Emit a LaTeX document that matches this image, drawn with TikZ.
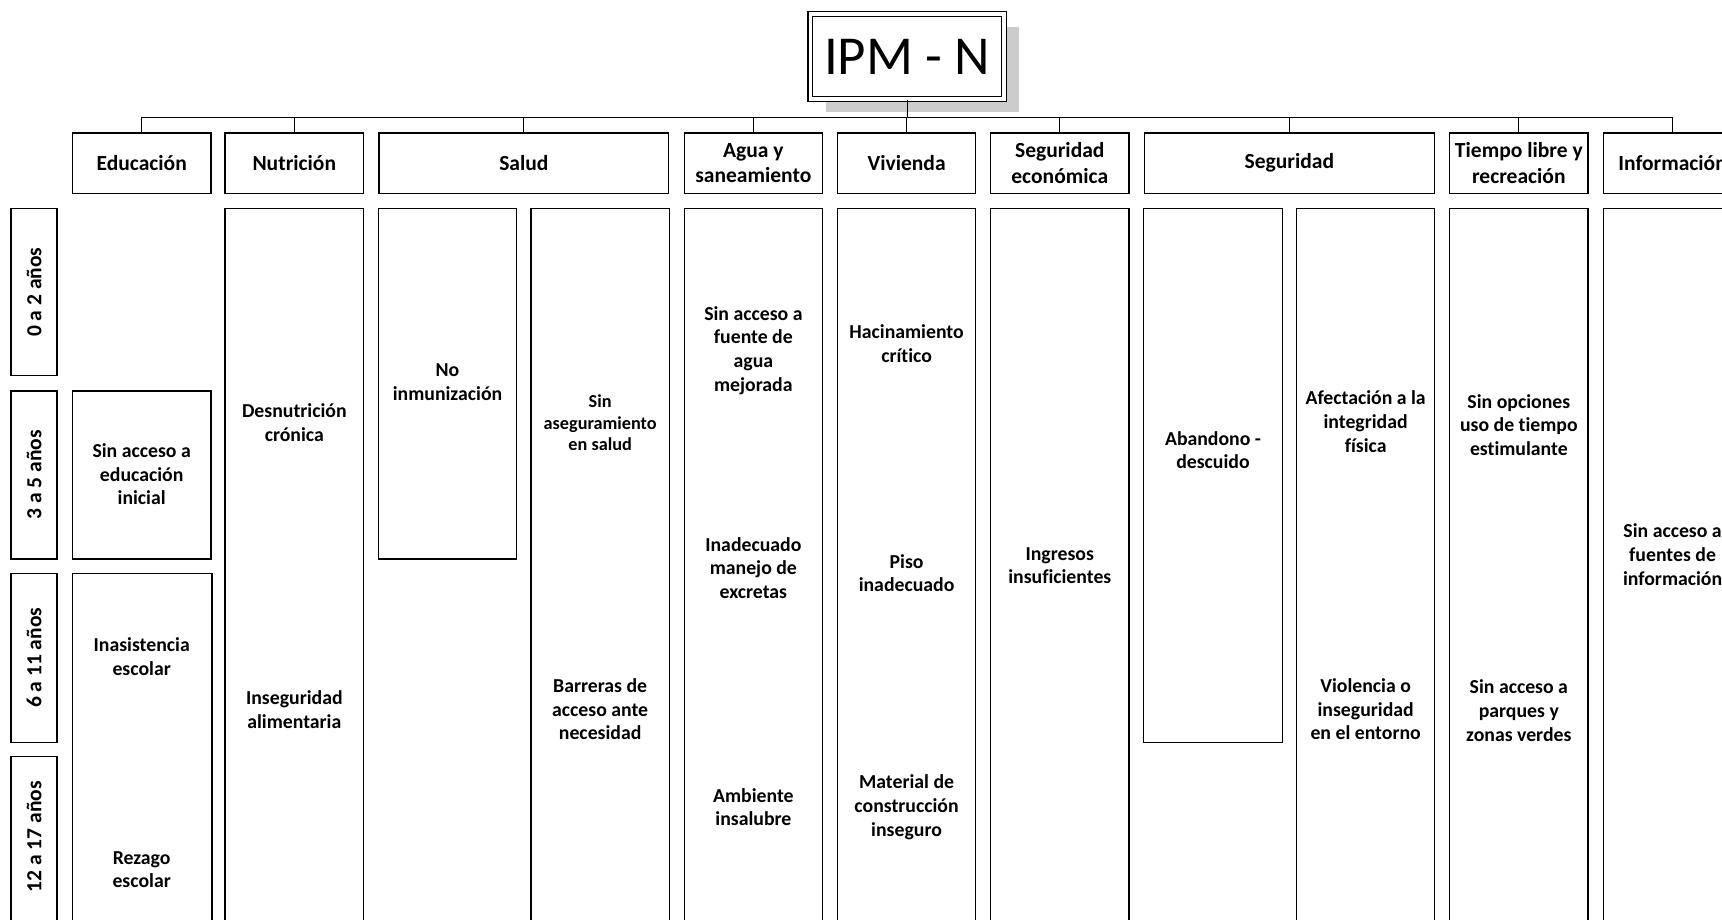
\documentclass[tikz,border=0pt]{standalone}
\usepackage{fontspec}
\setmainfont{Carlito}[Ligatures=NoCommon]
\usetikzlibrary{shadows}

\begin{document}
\begin{tikzpicture}[
x=0.5pt, y=-0.5pt,
    root/.style={rectangle, draw, fill=white, line width=0.6pt, double, double distance=1.6pt, minimum width=88.2pt, minimum height=38.7pt, font=\fontsize{25}{30}\selectfont, drop shadow={shadow xshift=7pt, shadow yshift=-6pt, fill=black!20, opacity=1}},
    header/.style={rectangle, draw, line width=0.6pt, minimum width=63pt, minimum height=27.5pt, inner sep=1pt, align=center, font=\bfseries\fontsize{9.8}{11.5}\selectfont},
    wideheader/.style={header, minimum width=132pt},
    cell/.style={rectangle, draw, line width=0.6pt, minimum width=63pt, inner sep=0pt},
    age/.style={rectangle, draw, line width=0.6pt, rotate=90, minimum height=21pt, inner sep=0pt, font=\bfseries\fontsize{9.8}{11}\selectfont},
    txt/.style={align=center, inner sep=0pt, font=\bfseries\fontsize{9}{10.75}\selectfont},
    smalltxt/.style={align=center, inner sep=0pt, font=\bfseries\fontsize{8.3}{9.75}\selectfont},
    conn/.style={draw, line width=0.5pt}
]
    \useasboundingbox (0,0) rectangle (1568,837);
    \clip (0,0) rectangle (1568,837);

    % ================= ROOT =================
    \node[root] (IPM) at (826,51.5) {IPM - N};

    % ================= DIMENSIONS =================
    \node[header] (Edu) at (129,148.5) {Educación};
    \node[header] (Nut) at (268,148.5) {Nutrición};
    \node[wideheader] (Salud) at (477,148.5) {Salud};
    \node[header] (Agua) at (686,148.5) {Agua y\\saneamiento};
    \node[header] (Viv) at (825.5,148.5) {Vivienda};
    \node[header] (SegEco) at (965,148.5) {Seguridad\\económica};
    \node[wideheader] (Seg) at (1174,148.5) {Seguridad};
    \node[header] (Tiempo) at (1383,148.5) {Tiempo libre y\\recreación};
    \node[header] (Info) at (1523,148.5) {Información};

    \coordinate (bus) at (0,107);
    \draw[conn] (IPM.south) -- (IPM.south |- bus);
    \draw[conn] (Edu.north) -- (Edu.north |- bus) -| (Info.north);
    \foreach \d in {Nut,Salud,Agua,Viv,SegEco,Seg,Tiempo}
        \draw[conn] (\d.north) -- (\d.north |- bus);

    % ================= AGE GROUPS =================
    \node[age, minimum width=76pt] (age1) at (31,266) {0 a 2 años};
    \node[age, minimum width=76.5pt] (age2) at (31,432.5) {3 a 5 años};
    \node[age, minimum width=77pt] (age3) at (31,599) {6 a 11 años};
    \node[age, minimum width=86pt] (age4) at (31,775) {};
    \node[age, draw=none] (tAge4) at (31,762) {12 a 17 años};

    % ================= INDICATOR BOXES =================
    \node[cell, minimum height=76.5pt] (eduIni) at (129,432.5) {};
    \node[cell, minimum width=63.5pt, minimum height=169pt] (eduEsc) at (129.5,691) {};
    \node[cell, minimum height=335pt] (nutBody) at (268,525) {};
    \node[cell, minimum height=159.5pt] (salInm) at (407.5,349.5) {};
    \node[cell, minimum height=335pt] (salAcc) at (546.5,525) {};
    \node[cell, minimum height=335pt] (aguaBody) at (686,525) {};
    \node[cell, minimum height=335pt] (vivBody) at (825.5,525) {};
    \node[cell, minimum height=335pt] (ecoBody) at (965,525) {};
    \node[cell, minimum height=243pt] (segAba) at (1104.5,433) {};
    \node[cell, minimum height=335pt] (segInt) at (1243.5,525) {};
    \node[cell, minimum height=335pt] (tieBody) at (1383,525) {};
    \node[cell, minimum height=335pt] (infBody) at (1523,525) {};

    % Educacion
    \node[txt] (tEdu1) at (129,432) {Sin acceso a\\educación\\inicial};
    \node[txt] (tEdu2) at (129,598) {Inasistencia\\escolar};
    \node[txt] (tEdu3) at (129,792) {Rezago\\escolar};

    % Nutricion
    \node[txt] (tNut1) at (268,385) {Desnutrición\\crónica};
    \node[txt] (tNut2) at (268,646) {Inseguridad\\alimentaria};

    % Salud
    \node[txt] (tSal1) at (407.5,348) {No\\inmunización};
    \node[smalltxt] (tSal2) at (546.5,385) {Sin\\aseguramiento\\en salud};
    \node[txt] (tSal3) at (546.5,646) {Barreras de\\acceso ante\\necesidad};

    % Agua y saneamiento
    \node[txt] (tAgua1) at (686,319) {Sin acceso a\\fuente de\\agua\\mejorada};
    \node[txt] (tAgua2) at (686,517) {Inadecuado\\manejo de\\excretas};
    \node[txt] (tAgua3) at (686,735) {Ambiente\\insalubre};

    % Vivienda
    \node[txt] (tViv1) at (825.5,313) {Hacinamiento\\crítico};
    \node[txt] (tViv2) at (825.5,522) {Piso\\inadecuado};
    \node[txt] (tViv3) at (825.5,735) {Material de\\construcción\\inseguro};

    % Seguridad economica
    \node[txt] (tEco1) at (965,515) {Ingresos\\insuficientes};

    % Seguridad
    \node[txt] (tSeg1) at (1104.5,410) {Abandono -\\descuido};
    \node[txt] (tSeg2) at (1243.5,384) {Afectación a la\\integridad\\física};
    \node[txt] (tSeg3) at (1243.5,646) {Violencia o\\inseguridad\\en el entorno};

    % Tiempo libre
    \node[txt] (tTie1) at (1383,387) {Sin opciones\\uso de tiempo\\estimulante};
    \node[txt] (tTie2) at (1383,647) {Sin acceso a\\parques y\\zonas verdes};

    % Informacion
    \node[txt] (tInf1) at (1523,505) {Sin acceso a\\fuentes de\\información};

\end{tikzpicture}
\end{document}
